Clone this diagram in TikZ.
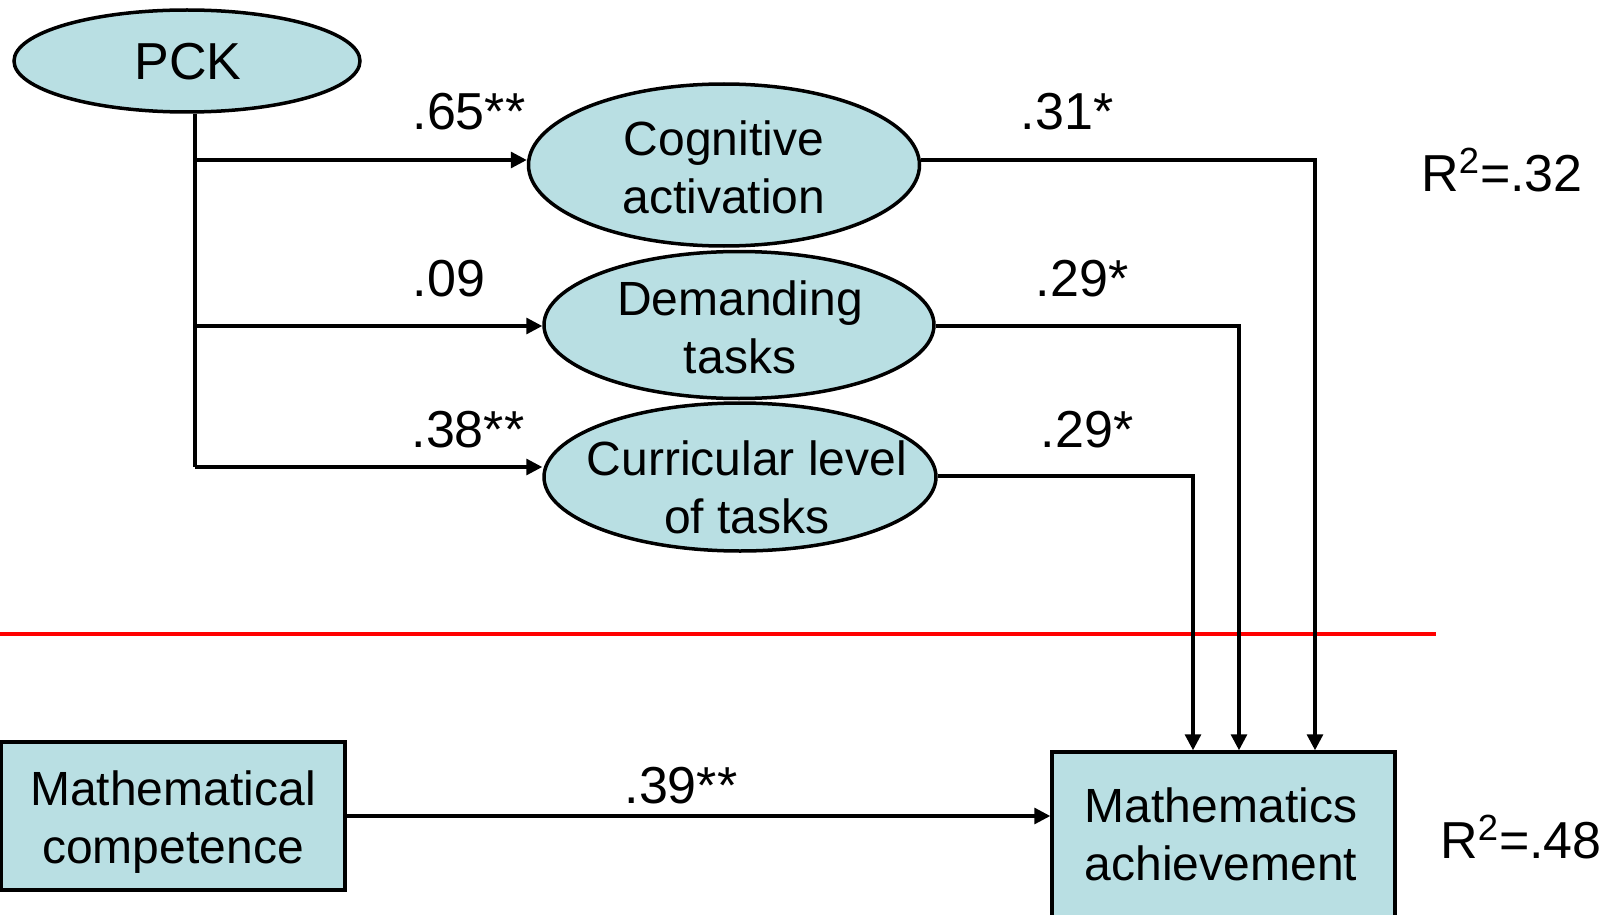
\documentclass[tikz,border=0pt]{standalone}
\usepackage{fontspec}
\setmainfont{Liberation Sans}
\usetikzlibrary{shapes.geometric,arrows.meta}
\definecolor{nodefill}{RGB}{185,223,227}
\definecolor{sepred}{RGB}{255,0,0}
\begin{document}
\begin{tikzpicture}[x=0.5pt,y=-0.5pt,
  latent/.style={ellipse,draw,line width=1.75pt,fill=nodefill,inner sep=0pt},
  observed/.style={rectangle,draw,line width=1.75pt,fill=nodefill,inner sep=0pt},
  nodetext/.style={align=center,inner sep=0pt,font=\fontsize{24}{29}\selectfont},
  conn/.style={line width=1.6pt,-{Triangle[length=8pt,width=8pt]}},
  plainline/.style={line width=1.6pt},
  coef/.style={inner sep=0pt,font=\fontsize{26}{30}\selectfont},
]
\clip (0,0) rectangle (1617,915);
% latent variables
\node[latent,minimum width=173pt,minimum height=51pt] (pck) at (187,61) {};
\node[coef] (pcktxt) at (188,62) {PCK};
\node[latent,minimum width=195.5pt,minimum height=81pt] (cog) at (724,165) {};
\node[nodetext] (cogtxt) at (724,167) {Cognitive\\activation};
\node[latent,minimum width=195pt,minimum height=73.5pt] (dem) at (739,325) {};
\node[nodetext] (demtxt) at (740,327) {Demanding\\tasks};
\node[latent,minimum width=196pt,minimum height=74pt] (cur) at (740,477) {};
\node[nodetext] (curtxt) at (747,487) {Curricular level\\of tasks};
% observed variables
\node[observed,minimum width=172pt,minimum height=74pt] (comp) at (173,816) {};
\node[nodetext] (comptxt) at (173,822) {Mathematical\\competence};
\node[observed,minimum width=171.5pt,minimum height=84pt] (ach) at (1223.5,836) {};
\node[nodetext] (achtxt) at (1221,834) {Mathematics\\achievement};
% separator
\draw[sepred,line width=1.6pt] (0,634) -- (1436,634);
% PCK paths
\coordinate (j1) at (195,160);
\coordinate (j2) at (195,326);
\coordinate (j3) at (195,467);
\draw[plainline] (pck.south -| j1) -- (j3);
\draw[conn] (j1) -- (j1 -| cog.west);
\draw[conn] (j2) -- (j2 -| dem.west);
\draw[conn] (j3) -- (j3 -| cur.west);
% paths to achievement
\coordinate (k1) at (1315,160);
\coordinate (k2) at (1239,326);
\coordinate (k3) at (1193,476);
\draw[conn] (cog.east |- k1) -- (k1) -- (k1 |- ach.north);
\draw[conn] (dem.east |- k2) -- (k2) -- (k2 |- ach.north);
\draw[conn] (cur.east |- k3) -- (k3) -- (k3 |- ach.north);
\draw[conn] (comp.east) -- (comp.east -| ach.west);
% coefficients
\node[coef] (c1) at (469,112) {.65**};
\node[coef] (c2) at (449,279) {.09};
\node[coef] (c3) at (468,430) {.38**};
\node[coef] (c4) at (1067,112) {.31*};
\node[coef] (c5) at (1082,279) {.29*};
\node[coef] (c6) at (1087,430) {.29*};
\node[coef] (c7) at (681,786) {.39**};
\node[coef] (r1) at (1502,170) {R\textsuperscript{2}=.32};
\node[coef] (r2) at (1521,837) {R\textsuperscript{2}=.48};
\end{tikzpicture}
\end{document}
